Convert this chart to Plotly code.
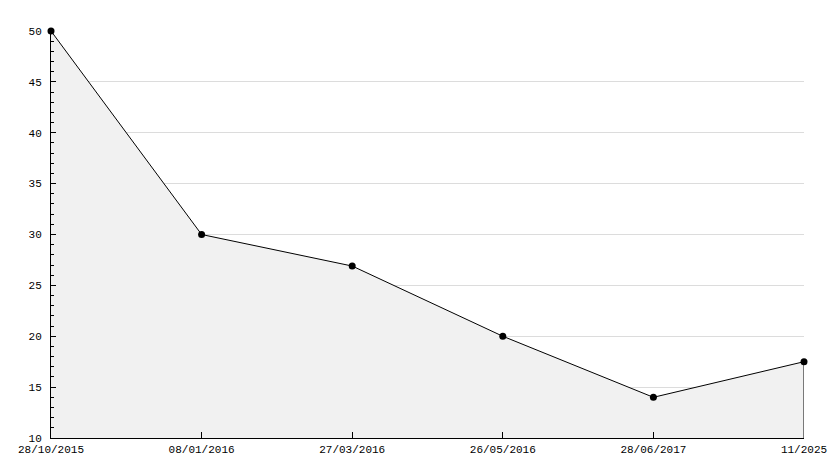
import plotly.graph_objects as go

dates = ["28/10/2015", "08/01/2016", "27/03/2016", "26/05/2016", "28/06/2017", "11/2025"]
values = [50, 30, 26.9, 20, 14, 17.5]
y_min, y_max = 10, 50

xs = list(range(len(dates)))

fig = go.Figure()
fig.add_trace(go.Scatter(
    x=xs, y=values, mode="lines+markers", fill="tozeroy",
    fillcolor="#f1f1f1",
    line=dict(color="black", width=1),
    marker=dict(color="black", size=7, symbol="circle"),
    hoverinfo="x+y", showlegend=False, cliponaxis=False,
))
# closing edge of the area at the last point
fig.add_trace(go.Scatter(
    x=[xs[-1], xs[-1]], y=[y_min, values[-1]], mode="lines",
    line=dict(color="black", width=1), hoverinfo="skip", showlegend=False,
    cliponaxis=False,
))

font = dict(family="Liberation Mono", size=11, color="black")
fig.update_layout(
    width=834, height=468,
    margin=dict(l=51, r=30, t=31, b=30),
    paper_bgcolor="white", plot_bgcolor="white",
    font=font,
    xaxis=dict(
        range=[0, len(dates) - 1], tickvals=xs, ticktext=dates, automargin=False,
        showgrid=False, zeroline=False, showline=True, linecolor="black", linewidth=1,
        ticks="inside", ticklen=6, tickcolor="black", tickfont=font,
        ticklabelstandoff=1,
    ),
    yaxis=dict(
        range=[y_min, y_max], dtick=5, tick0=0, automargin=False,
        showgrid=True, gridcolor="#dcdcdc", gridwidth=1,
        zeroline=False, showline=True, linecolor="black", linewidth=1,
        ticks="inside", ticklen=5, tickcolor="black", tickfont=font,
        ticklabelstandoff=6,
        minor=dict(dtick=1, ticks="inside", ticklen=3, tickcolor="black", showgrid=False),
    ),
)

fig.write_html(
    "out.html",
    config={"displayModeBar": False},
    post_script="document.body.style.margin='0';document.body.style.overflow='hidden';",
)
